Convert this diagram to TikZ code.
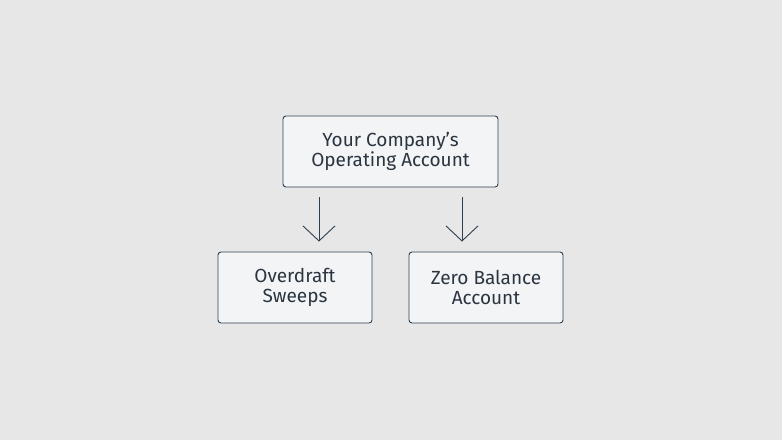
\documentclass[tikz,border=0pt]{standalone}
\usepackage{fontspec}
\setmainfont{Fira Sans}
\usetikzlibrary{arrows.meta}
\definecolor{bgcol}{HTML}{E7E7E8}
\definecolor{boxfill}{HTML}{F3F4F6}
\definecolor{boxline}{HTML}{2E4050}
\definecolor{txtcol}{HTML}{2A3540}
\tikzset{
	acct/.style={draw=boxline, fill=boxfill, rounded corners=3pt, line width=0.9pt,
		minimum height=71pt, align=center, text=txtcol, font=\fontsize{19}{20}\selectfont},
	sweep/.style={draw=boxline, line width=0.9pt, -{Straight Barb[length=15pt,width=32pt,line width=0.9pt]},
		shorten <=10pt, shorten >=10pt}
}
\begin{document}
\begin{tikzpicture}[x=1pt,y=-1pt]
\fill[bgcol] (0,0) rectangle (782,440);
\useasboundingbox (0,0) rectangle (782,440);
\node[acct, minimum width=215pt] (oper) at (390.5,151.5) {Your Company's\\Operating Account};
\node[acct, minimum width=154pt] (over) at (295,287.5) {Overdraft\\Sweeps};
\node[acct, minimum width=154pt] (zero) at (486,287.5) {Zero Balance\\Account};
\coordinate (a1) at (319,0); \coordinate (a2) at (462,0);
\draw[sweep] (oper.south -| a1) -- (over.north -| a1);
\draw[sweep] (oper.south -| a2) -- (zero.north -| a2);
\end{tikzpicture}
\end{document}
